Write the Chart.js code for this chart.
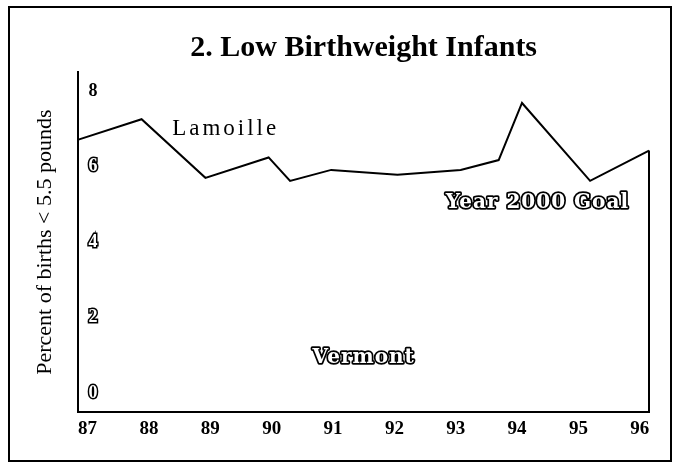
<!DOCTYPE html>
<html>
<head>
<meta charset="utf-8">
<script src="https://cdn.jsdelivr.net/npm/chart.js@4.4.1/dist/chart.umd.min.js"></script>
<style>
  body { margin: 0; background: #fff; }
  #wrap { position: relative; width: 675px; height: 465px; }
  #frame {
    position: absolute; left: 8px; top: 6px; width: 664px; height: 456px;
    border: 2px solid #000; box-sizing: border-box;
  }
  canvas { position: absolute; left: 0; top: 0; }
</style>
</head>
<body>
<div id="wrap">
  <div id="frame"></div>
  <canvas id="lbwChart" width="675" height="465"></canvas>
</div>
<script>
// Lamoille low birthweight (x = year, 19xx)
const years = [86.85, 87.88, 88.92, 89.95, 90.30, 90.97, 92.05, 93.08, 93.70, 94.08, 95.19, 96.15];
const lamoille = [6.71, 7.25, 5.70, 6.24, 5.62, 5.91, 5.78, 5.91, 6.17, 7.68, 5.62, 6.42];
const yearTicks = [87, 88, 89, 90, 91, 92, 93, 94, 95, 96];
const pctTicks = [0, 2, 4, 6, 8];

const serif = "'Liberation Serif', 'DejaVu Serif', serif";
const outlineFont = "'DejaVu Serif', serif";

// text labels written on the plot (placed in data units)
const plotLabels = [
  { text: 'Lamoille', x: 89.25, y: 7.0, outline: false, font: '23px ' + serif, spacing: '3px' },
  { text: 'Year 2000 Goal', x: 94.33, y: 5.05, outline: true, font: 'bold 20px ' + outlineFont, spacing: '1px' },
  { text: 'Vermont', x: 91.5, y: 0.95, outline: true, font: 'bold 20px ' + outlineFont, spacing: '1px' }
];

const labelPlugin = {
  id: 'plotLabels',
  afterDatasetsDraw(chart) {
    const { ctx, scales: { x, y }, chartArea } = chart;
    // right edge drops from the last point to the axis
    const pts = chart.getDatasetMeta(0).data;
    const last = pts[pts.length - 1];
    ctx.save();
    ctx.strokeStyle = '#000';
    ctx.lineWidth = 2;
    ctx.beginPath();
    ctx.moveTo(last.x, last.y);
    ctx.lineTo(last.x, chartArea.bottom);
    ctx.stroke();

    ctx.textAlign = 'center';
    ctx.textBaseline = 'middle';
    plotLabels.forEach(l => {
      ctx.font = l.font;
      ctx.letterSpacing = l.spacing;
      const px = x.getPixelForValue(l.x);
      const py = y.getPixelForValue(l.y);
      if (l.outline) {
        ctx.lineJoin = 'round';
        ctx.lineWidth = 3.5;
        ctx.strokeStyle = '#000';
        ctx.strokeText(l.text, px, py);
        ctx.fillStyle = '#fff';
        ctx.fillText(l.text, px, py);
      } else {
        ctx.fillStyle = '#000';
        ctx.fillText(l.text, px, py);
      }
    });
    ctx.restore();
  }
};

new Chart(document.getElementById('lbwChart'), {
  type: 'line',
  data: {
    datasets: [{
      label: 'Lamoille',
      data: years.map((yr, i) => ({ x: yr, y: lamoille[i] })),
      borderColor: '#000',
      borderWidth: 2,
      pointRadius: 0,
      tension: 0,
      fill: false
    }]
  },
  options: {
    responsive: false,
    animation: false,
    layout: { padding: { left: 28, right: 26, top: 20, bottom: 20 } },
    plugins: {
      legend: { display: false },
      tooltip: { enabled: false },
      title: {
        display: true,
        fullSize: false,
        text: '2. Low Birthweight Infants',
        color: '#000',
        font: { family: serif, size: 30, weight: 'bold' },
        padding: { top: 10, bottom: 6 }
      }
    },
    scales: {
      x: {
        type: 'linear',
        min: 86.85,
        max: 96.15,
        afterBuildTicks: s => { s.ticks = yearTicks.map(v => ({ value: v })); },
        grid: { display: false, drawTicks: false },
        border: { display: true, color: '#000', width: 2 },
        ticks: {
          color: '#000',
          padding: 5,
          maxRotation: 0,
          font: { family: serif, size: 19, weight: 'bold' }
        }
      },
      y: {
        min: -0.5,
        max: 8.5,
        afterBuildTicks: s => { s.ticks = pctTicks.map(v => ({ value: v })); },
        grid: { display: false, drawTicks: false },
        border: { display: true, color: '#000', width: 2 },
        title: {
          display: true,
          text: 'Percent of births < 5.5 pounds',
          color: '#000',
          font: { family: serif, size: 22 },
          padding: { top: 4, bottom: 0 }
        },
        ticks: {
          mirror: true,
          padding: 10,
          color: c => (c.tick && c.tick.value === 8 ? '#000' : '#fff'),
          textStrokeColor: '#000',
          textStrokeWidth: c => (c.tick && c.tick.value === 8 ? 0 : 3),
          font: { family: serif, size: 18, weight: 'bold' }
        }
      }
    }
  },
  plugins: [labelPlugin]
});
</script>
</body>
</html>
